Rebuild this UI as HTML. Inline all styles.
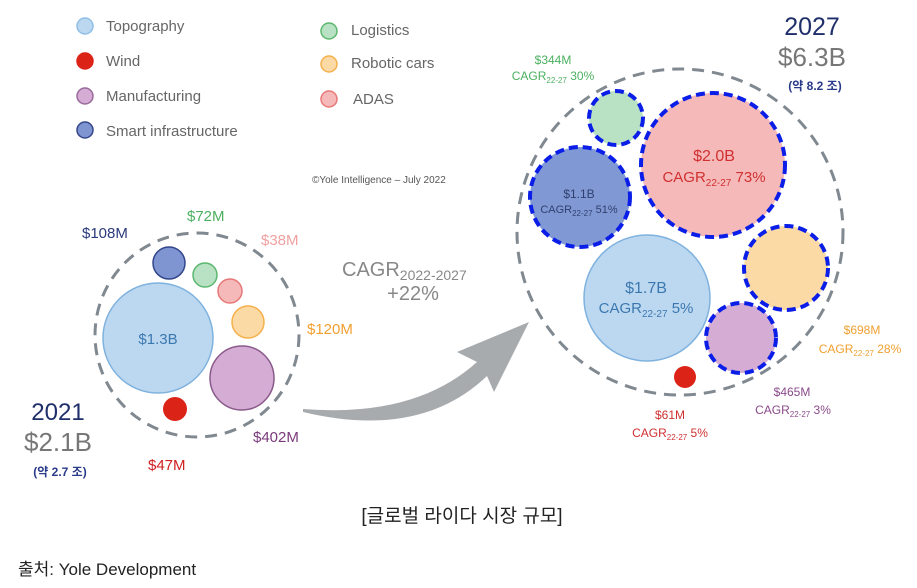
<!DOCTYPE html>
<html><head><meta charset="utf-8"><style>
body{margin:0;background:#fff;width:917px;height:583px;overflow:hidden}
svg text{font-family:"Liberation Sans","Noto Sans CJK KR",sans-serif}
</style></head><body>
<svg width="917" height="583" viewBox="0 0 917 583">
<g stroke-width="1.5">
<circle cx="85" cy="26" r="8" fill="#bcd8f0" stroke="#8fbfe6"/>
<circle cx="85" cy="61" r="8" fill="#dc2318" stroke="#dc2318"/>
<circle cx="85" cy="96" r="8" fill="#d4acd4" stroke="#9a6a9a"/>
<circle cx="85" cy="130" r="8" fill="#7e95d2" stroke="#34468a"/>
<circle cx="329" cy="31" r="8" fill="#b9e1c3" stroke="#5cb86e"/>
<circle cx="329" cy="64" r="8" fill="#fcdaa5" stroke="#f5b04c"/>
<circle cx="329" cy="99" r="8" fill="#f6b9b9" stroke="#e87878"/>
</g>
<g fill="#666" font-size="15">
<text x="106" y="31">Topography</text>
<text x="106" y="66">Wind</text>
<text x="106" y="101">Manufacturing</text>
<text x="106" y="136">Smart infrastructure</text>
<text x="351" y="35">Logistics</text>
<text x="351" y="68">Robotic cars</text>
<text x="353" y="104">ADAS</text>
</g>
<text x="312" y="183" font-size="10" fill="#555">©Yole Intelligence – July 2022</text>

<circle cx="197" cy="335" r="102" fill="none" stroke="#808890" stroke-width="3" stroke-dasharray="12 8"/>
<circle cx="158" cy="338" r="55" fill="#bcd8f0" stroke="#7fb2de" stroke-width="1.5"/>
<circle cx="169" cy="263" r="16" fill="#7e95d2" stroke="#34468a" stroke-width="1.5"/>
<circle cx="205" cy="275" r="12" fill="#b9e1c3" stroke="#5cb86e" stroke-width="1.5"/>
<circle cx="230" cy="291" r="12" fill="#f6b9b9" stroke="#e87878" stroke-width="1.5"/>
<circle cx="248" cy="322" r="16" fill="#fcdaa5" stroke="#f5b04c" stroke-width="1.5"/>
<circle cx="242" cy="378" r="32" fill="#d4acd4" stroke="#8a5a8a" stroke-width="1.5"/>
<circle cx="175" cy="409" r="12" fill="#dc2318"/>
<text x="158" y="344" font-size="15" fill="#3c78b0" text-anchor="middle">$1.3B</text>
<g font-size="15">
<text x="82" y="238" fill="#2a3a7a">$108M</text>
<text x="187" y="221" fill="#4cb060">$72M</text>
<text x="261" y="245" fill="#f0a0a0">$38M</text>
<text x="307" y="334" fill="#f0a030">$120M</text>
<text x="253" y="442" fill="#7a3a7a">$402M</text>
<text x="148" y="470" fill="#d02020">$47M</text>
</g>
<text x="58" y="420" font-size="24" fill="#1f2f6a" text-anchor="middle">2021</text>
<text x="58" y="451" font-size="26" fill="#777" text-anchor="middle">$2.1B</text>
<text x="60" y="476" font-size="12" font-weight="bold" fill="#2a3a8a" text-anchor="middle">(약 2.7 조)</text>

<path d="M303 409 Q415 418 477 362 L457 352 L529 322 L494 392 L487 376 Q420 440 303 412 Z" fill="#a8abae"/>
<text x="342" y="276" font-size="20" fill="#888">CAGR<tspan font-size="14" dy="4">2022-2027</tspan></text>
<text x="413" y="300" font-size="20" fill="#888" text-anchor="middle">+22%</text>

<circle cx="680" cy="232" r="163" fill="none" stroke="#808890" stroke-width="3" stroke-dasharray="12 8"/>
<g stroke="#0a1ee8" stroke-width="4" stroke-dasharray="9 5">
<circle cx="616" cy="118" r="27" fill="#b9e1c3"/>
<circle cx="713" cy="165" r="72" fill="#f6b9b9"/>
<circle cx="580" cy="197" r="50" fill="#8099d4"/>
<circle cx="786" cy="268" r="42" fill="#fcdaa5"/>
<circle cx="741" cy="338" r="35" fill="#d4acd4"/>
</g>
<circle cx="647" cy="298" r="63" fill="#bcd8f0" stroke="#7fb2de" stroke-width="1.5"/>
<circle cx="685" cy="377" r="11" fill="#dc2318"/>
<text x="714" y="161" font-size="16" fill="#d03030" text-anchor="middle">$2.0B</text>
<text x="714" y="182" font-size="15" fill="#d03030" text-anchor="middle">CAGR<tspan font-size="10" dy="4">22-27</tspan><tspan dy="-4"> 73%</tspan></text>
<text x="579" y="198" font-size="12" fill="#2f3f6f" text-anchor="middle">$1.1B</text>
<text x="579" y="213" font-size="11" fill="#2f3f6f" text-anchor="middle">CAGR<tspan font-size="8" dy="3">22-27</tspan><tspan dy="-3"> 51%</tspan></text>
<text x="646" y="293" font-size="16" fill="#3c78b0" text-anchor="middle">$1.7B</text>
<text x="646" y="313" font-size="15" fill="#3c78b0" text-anchor="middle">CAGR<tspan font-size="10" dy="4">22-27</tspan><tspan dy="-4"> 5%</tspan></text>
<g font-size="12" text-anchor="middle">
<text x="553" y="64" fill="#4cb060">$344M</text>
<text x="553" y="80" fill="#4cb060">CAGR<tspan font-size="8" dy="3">22-27</tspan><tspan dy="-3"> 30%</tspan></text>
<text x="862" y="334" fill="#f0a030">$698M</text>
<text x="860" y="353" fill="#f0a030">CAGR<tspan font-size="8" dy="3">22-27</tspan><tspan dy="-3"> 28%</tspan></text>
<text x="792" y="396" fill="#8a4a8a">$465M</text>
<text x="793" y="414" fill="#8a4a8a">CAGR<tspan font-size="8" dy="3">22-27</tspan><tspan dy="-3"> 3%</tspan></text>
<text x="670" y="419" fill="#d03030">$61M</text>
<text x="670" y="437" fill="#d03030">CAGR<tspan font-size="8" dy="3">22-27</tspan><tspan dy="-3"> 5%</tspan></text>
</g>
<text x="812" y="35" font-size="25" fill="#1f2f6a" text-anchor="middle">2027</text>
<text x="812" y="66" font-size="26" fill="#777" text-anchor="middle">$6.3B</text>
<text x="815" y="90" font-size="12" font-weight="bold" fill="#2a3a8a" text-anchor="middle">(약 8.2 조)</text>

<text x="462" y="522" font-size="19" fill="#222" text-anchor="middle">[글로벌 라이다 시장 규모]</text>
<text x="18" y="575" font-size="17" fill="#222">출처: Yole Development</text>
</svg>
</body></html>
